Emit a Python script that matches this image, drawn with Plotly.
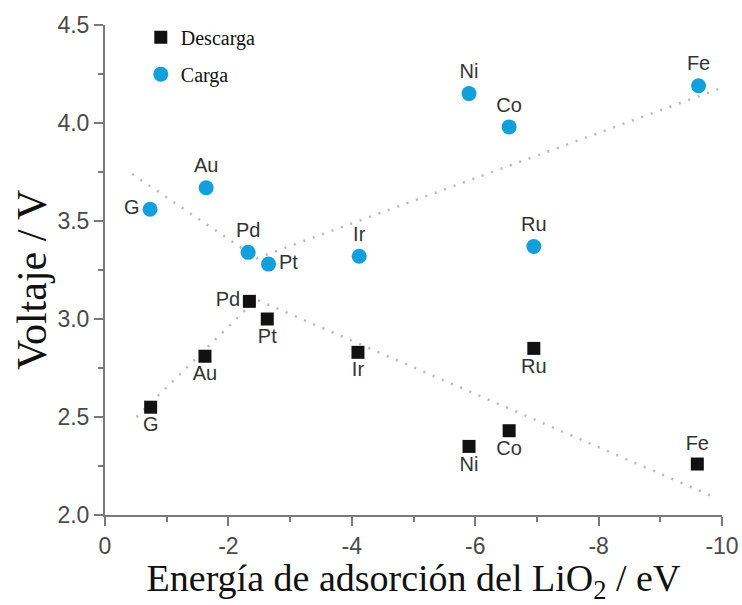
import plotly.graph_objects as go

# Catalyst labels
catalysts = ["G", "Au", "Pd", "Pt", "Ir", "Ni", "Co", "Ru", "Fe"]

# LiO2 adsorption energy (eV) for each catalyst
energy_carga = [-0.73, -1.64, -2.32, -2.65, -4.12, -5.90, -6.55, -6.95, -9.62]
energy_descarga = [-0.74, -1.62, -2.34, -2.63, -4.10, -5.90, -6.55, -6.95, -9.60]

# Voltages (V)
voltaje_carga = [3.56, 3.67, 3.34, 3.28, 3.32, 4.15, 3.98, 3.37, 4.19]
voltaje_descarga = [2.55, 2.81, 3.09, 3.00, 2.83, 2.35, 2.43, 2.85, 2.26]

# Volcano trend lines (vertices)
trend_carga_x = [-0.44, -2.46, -10.0]
trend_carga_y = [3.74, 3.31, 4.18]
trend_descarga_x = [-0.51, -2.45, -9.81]
trend_descarga_y = [2.50, 3.10, 2.10]

# Label placement around each point
pos_carga = ["middle left", "top center", "top center", "middle right", "top center",
             "top center", "top center", "top center", "top center"]
pos_descarga = ["bottom center", "bottom center", "middle left", "bottom center", "bottom center",
                "bottom center", "bottom center", "bottom center", "top center"]

BLUE = "#129fdb"
SANS = "Liberation Sans, Arial, sans-serif"
SERIF = "Liberation Serif, Times New Roman, serif"

fig = go.Figure()

trend_style = dict(color="#b8b8b8", width=2.5, dash="2px,8px")
fig.add_trace(go.Scatter(x=trend_carga_x, y=trend_carga_y, mode="lines",
                         line=trend_style, showlegend=False, hoverinfo="skip"))
fig.add_trace(go.Scatter(x=trend_descarga_x, y=trend_descarga_y, mode="lines",
                         line=trend_style, showlegend=False, hoverinfo="skip"))

fig.add_trace(go.Scatter(
    x=energy_descarga, y=voltaje_descarga, mode="markers+text", name="Descarga",
    text=catalysts, textposition=pos_descarga,
    textfont=dict(family=SANS, size=20, color="#333333"),
    marker=dict(symbol="square", size=13, color="#111111"),
    legendgroup="d", cliponaxis=False))

fig.add_trace(go.Scatter(
    x=energy_carga, y=voltaje_carga, mode="markers+text", name="Carga",
    text=catalysts, textposition=pos_carga,
    textfont=dict(family=SANS, size=20, color="#333333"),
    marker=dict(symbol="circle", size=15, color=BLUE),
    legendgroup="c", cliponaxis=False))

axis_common = dict(
    showline=True, linecolor="#7a7a7a", linewidth=2,
    ticks="outside", ticklen=9, tickwidth=2, tickcolor="#7a7a7a",
    tickfont=dict(family=SANS, size=23, color="#4a4a4a"),
    showgrid=False, zeroline=False, mirror=False, automargin=False,
)

fig.update_xaxes(
    range=[0, -10], tickvals=[0, -2, -4, -6, -8, -10],
    ticktext=["0", "-2", "-4", "-6", "-8", "-10"],
    minor=dict(dtick=1, ticks="outside", ticklen=5, tickwidth=2, tickcolor="#7a7a7a"),
    title=dict(text="Energía de adsorción del LiO<sub>2</sub> / eV",
               font=dict(family=SERIF, size=38, color="#111111")),
    **axis_common)

fig.update_yaxes(
    range=[2.0, 4.5], tickvals=[2.0, 2.5, 3.0, 3.5, 4.0, 4.5],
    ticktext=["2.0", "2.5", "3.0", "3.5", "4.0", "4.5"],
    minor=dict(dtick=0.25, ticks="outside", ticklen=5, tickwidth=2, tickcolor="#7a7a7a"),
    **axis_common)

# Vertical axis title, placed as a rotated annotation
fig.add_annotation(
    text="Voltaje / V", textangle=-90, showarrow=False,
    xref="paper", yref="paper", x=-0.118, y=0.48,
    xanchor="center", yanchor="middle",
    font=dict(family=SERIF, size=42, color="#111111"))

fig.update_layout(
    width=742, height=605,
    margin=dict(l=105, r=20, t=25, b=90),
    paper_bgcolor="white", plot_bgcolor="white",
    legend=dict(x=0.058, y=1.015, xanchor="left", yanchor="top",
                font=dict(family=SERIF, size=20, color="#111111"),
                bgcolor="rgba(0,0,0,0)", tracegroupgap=8),
)

fig.write_html("out.html")
